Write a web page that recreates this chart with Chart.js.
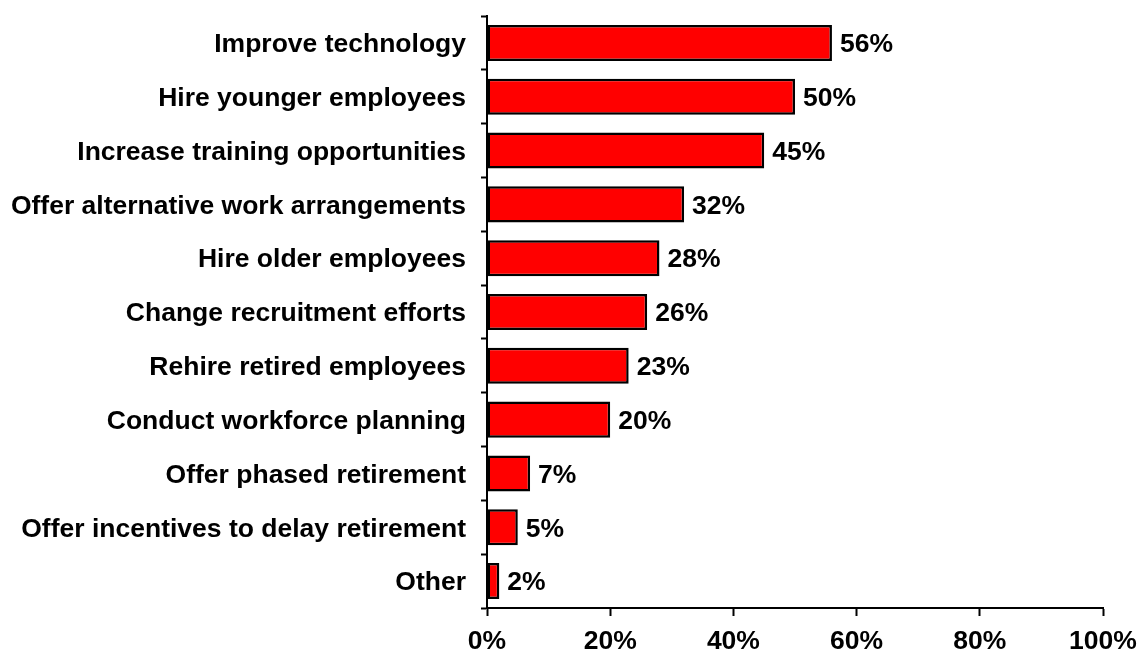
<!DOCTYPE html>
<html>
<head>
<meta charset="utf-8">
<script src="https://cdn.jsdelivr.net/npm/chart.js@4"></script>
<style>
  html, body { margin: 0; padding: 0; background: #fff; }
  #wrap { width: 1137px; height: 658px; }
</style>
</head>
<body>
<div id="wrap"><canvas id="chart"></canvas></div>
<script>
const actions = [
  'Improve technology',
  'Hire younger employees',
  'Increase training opportunities',
  'Offer alternative work arrangements',
  'Hire older employees',
  'Change recruitment efforts',
  'Rehire retired employees',
  'Conduct workforce planning',
  'Offer phased retirement',
  'Offer incentives to delay retirement',
  'Other'
];
const shares = [56, 50, 45, 32, 28, 26, 23, 20, 7, 5, 2];
const xTicks = [0, 20, 40, 60, 80, 100];

const font = { family: '"Liberation Sans", Arial, sans-serif', size: 26.5, weight: 'bold' };

// writes "NN%" just past the end of each bar
const valueLabels = {
  id: 'valueLabels',
  afterDatasetsDraw(chart) {
    const ctx = chart.ctx;
    const meta = chart.getDatasetMeta(0);
    ctx.save();
    ctx.font = `bold ${font.size}px ${font.family}`;
    ctx.fillStyle = '#000';
    ctx.textAlign = 'left';
    ctx.textBaseline = 'middle';
    meta.data.forEach((bar, i) => {
      ctx.fillText(shares[i] + '%', bar.x + 8, bar.y + 2);
    });
    ctx.restore();
  }
};

// keep the axes where they are instead of growing room for edge labels
const noEdgePad = s => {
  s.paddingTop = 0; s.paddingBottom = 0; s.paddingLeft = 0; s.paddingRight = 0;
};

new Chart(document.getElementById('chart'), {
  type: 'bar',
  data: {
    labels: actions,
    datasets: [{
      data: shares,
      backgroundColor: '#ff0000',
      borderColor: '#000',
      borderWidth: 2.5,
      borderSkipped: false,
      categoryPercentage: 1,
      barPercentage: 0.67
    }]
  },
  options: {
    indexAxis: 'y',
    responsive: true,
    maintainAspectRatio: false,
    animation: false,
    layout: { padding: { top: 16, right: 34, left: 0, bottom: 0 } },
    plugins: { legend: { display: false }, tooltip: { enabled: false } },
    scales: {
      x: {
        min: 0,
        max: 100,
        afterBuildTicks: s => { s.ticks = xTicks.map(v => ({ value: v })); },
        afterFit: s => { s.height = 50; noEdgePad(s); },
        grid: { drawOnChartArea: false, tickLength: 8, tickColor: '#000', tickWidth: 2 },
        border: { color: '#000', width: 2 },
        ticks: { color: '#000', font, padding: 10, maxRotation: 0, callback: v => v + '%' }
      },
      y: {
        afterFit: s => { s.width = 487; noEdgePad(s); },
        grid: { drawOnChartArea: false, offset: true, tickLength: 6, tickColor: '#000', tickWidth: 2 },
        border: { color: '#000', width: 2 },
        ticks: { color: '#000', font, padding: 15, labelOffset: 2, autoSkip: false }
      }
    }
  },
  plugins: [valueLabels]
});
</script>
</body>
</html>
